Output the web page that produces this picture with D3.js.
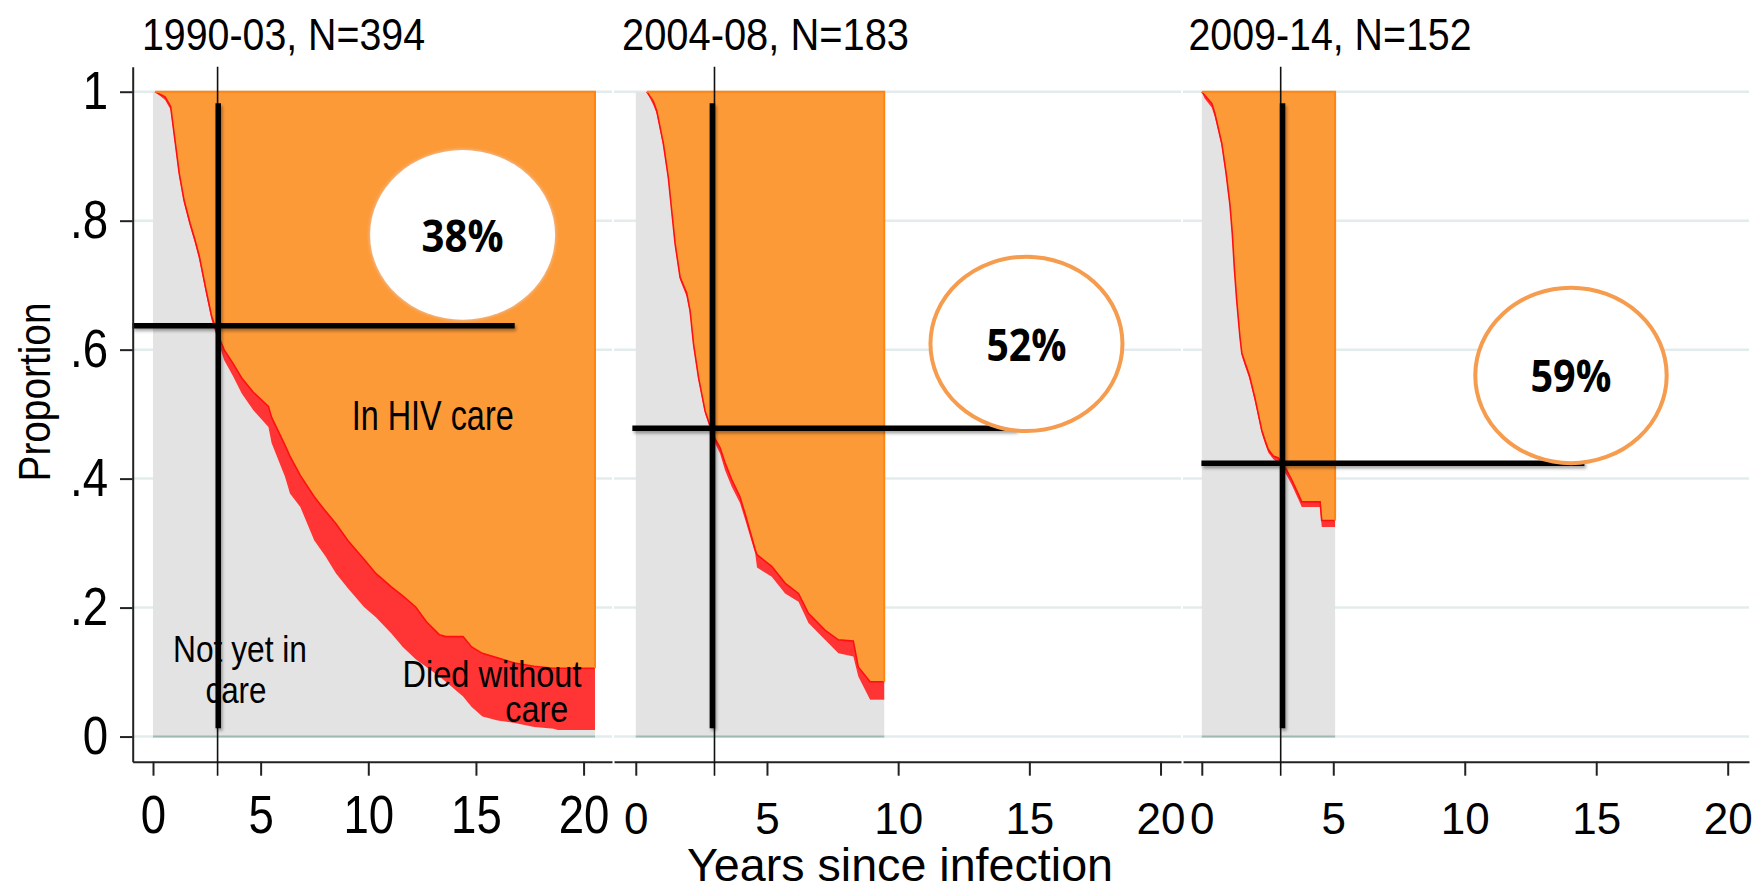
<!DOCTYPE html>
<html><head><meta charset="utf-8">
<script src="https://cdn.jsdelivr.net/npm/d3@7"></script>
<style>body{margin:0;background:#fff}svg{display:block}</style>
</head><body>
<svg id="c" width="1756" height="888"></svg>
<script>
// ---------- data ----------
const yTicks = [0, 0.2, 0.4, 0.6, 0.8, 1];
const yTickLabels = ["0", ".2", ".4", ".6", ".8", "1"];
const xTicks = [0, 5, 10, 15, 20];
const panelTitles = ["1990-03, N=394", "2004-08, N=183", "2009-14, N=152"];
const pctLabels = ["38%", "52%", "59%"];
const refYear = 3;
const refLevels = [0.637, 0.478, 0.424];

// 1990-03
const years1 = [0, 0.09, 0.56, 0.82, 1.02, 1.22, 1.44, 1.72, 1.95, 2.15, 2.46, 2.72, 2.96, 3.30, 3.73, 4.12, 4.66, 5.36, 5.51, 6.13, 6.36, 6.84, 7.49, 8.00, 8.50, 9.05, 9.80, 10.35, 11.07, 11.60, 12.20, 12.70, 13.30, 13.60, 14.40, 14.80, 15.30, 16.00, 16.80, 17.70, 18.60, 18.80, 20.53];
const notInCare1 = [1, 1, 0.987, 0.972, 0.920, 0.868, 0.827, 0.791, 0.765, 0.739, 0.687, 0.646, 0.620, 0.584, 0.558, 0.532, 0.506, 0.480, 0.455, 0.403, 0.377, 0.356, 0.304, 0.280, 0.253, 0.230, 0.201, 0.185, 0.160, 0.139, 0.120, 0.108, 0.093, 0.085, 0.062, 0.046, 0.031, 0.025, 0.021, 0.015, 0.012, 0.010, 0.010];
const notInCareOrDied1 = [1, 1, 0.992, 0.977, 0.925, 0.873, 0.832, 0.796, 0.770, 0.745, 0.693, 0.652, 0.628, 0.600, 0.578, 0.556, 0.534, 0.512, 0.495, 0.452, 0.435, 0.405, 0.372, 0.350, 0.330, 0.304, 0.275, 0.253, 0.232, 0.218, 0.201, 0.178, 0.158, 0.155, 0.155, 0.139, 0.129, 0.122, 0.114, 0.109, 0.106, 0.106, 0.106];

// 2004-08
const years2 = [0, 0.42, 0.67, 0.80, 1.05, 1.24, 1.37, 1.50, 1.69, 1.94, 2.07, 2.20, 2.39, 2.64, 2.83, 3.02, 3.21, 3.40, 3.66, 3.97, 4.17, 4.55, 4.62, 5.18, 5.69, 6.20, 6.58, 7.21, 7.72, 8.29, 8.48, 8.93, 9.47];
const notInCare2 = [1, 1, 0.979, 0.966, 0.915, 0.863, 0.811, 0.760, 0.708, 0.682, 0.656, 0.605, 0.553, 0.501, 0.478, 0.455, 0.439, 0.413, 0.387, 0.362, 0.336, 0.284, 0.262, 0.248, 0.222, 0.209, 0.176, 0.150, 0.129, 0.124, 0.093, 0.057, 0.057];
const notInCareOrDied2 = [1, 1, 0.985, 0.970, 0.920, 0.867, 0.815, 0.764, 0.712, 0.688, 0.660, 0.609, 0.557, 0.505, 0.482, 0.462, 0.448, 0.425, 0.398, 0.372, 0.345, 0.290, 0.282, 0.264, 0.238, 0.222, 0.191, 0.165, 0.150, 0.148, 0.108, 0.085, 0.085];

// 2009-14
const years3 = [0, 0.10, 0.38, 0.50, 0.76, 0.92, 1.07, 1.16, 1.24, 1.33, 1.45, 1.52, 1.64, 1.81, 2.02, 2.15, 2.28, 2.40, 2.53, 2.72, 2.91, 3.23, 3.42, 3.67, 3.80, 4.50, 4.56, 5.07];
const notInCare3 = [1, 0.990, 0.975, 0.960, 0.915, 0.870, 0.820, 0.775, 0.720, 0.670, 0.615, 0.590, 0.575, 0.555, 0.520, 0.495, 0.470, 0.455, 0.440, 0.430, 0.424, 0.405, 0.390, 0.368, 0.356, 0.356, 0.325, 0.325];
const notInCareOrDied3 = [1, 0.995, 0.982, 0.966, 0.920, 0.875, 0.825, 0.780, 0.725, 0.675, 0.620, 0.595, 0.580, 0.560, 0.525, 0.500, 0.475, 0.460, 0.445, 0.435, 0.432, 0.413, 0.398, 0.376, 0.364, 0.364, 0.335, 0.335];

// ---------- layout ----------
const FONT = "'Liberation Sans', Arial, Helvetica, sans-serif";
const panels = [
  {range:[132.7,612], domain:[-0.943,21.32], years:years1, L:notInCare1, U:notInCareOrDied1,
   titleX:142, titleLen:283, tickFont:53, squash:0.86, tickTop:795,
   vLine:3.03, hFrom:-0.95, hTo:16.8, ell:{t:14.38,p:0.778,rx:93,ry:85.3,soft:true}, pctLen:82},
  {range:[614,1181], domain:[-0.83,20.78], years:years2, L:notInCare2, U:notInCareOrDied2,
   titleX:622, titleLen:287, tickFont:44, squash:1, tickTop:803,
   vLine:2.92, hFrom:-0.13, hTo:14.5, ell:{t:14.89,p:0.609,rx:98,ry:89.2,soft:false}, pctLen:80},
  {range:[1183,1749], domain:[-0.715,20.81], years:years3, L:notInCare3, U:notInCareOrDied3,
   titleX:1188.5, titleLen:283, tickFont:44, squash:1, tickTop:803,
   vLine:3.07, hFrom:-0.015, hTo:14.55, ell:{t:14.04,p:0.560,rx:97.7,ry:89.7,soft:false}, pctLen:81}
];

const svg = d3.select("#c");
const defs = svg.append("defs");
const f = defs.append("filter").attr("id","sh").attr("filterUnits","userSpaceOnUse")
  .attr("x",0).attr("y",0).attr("width",1756).attr("height",888);
f.append("feDropShadow").attr("dx",1.5).attr("dy",2.5).attr("stdDeviation",1.6)
  .attr("flood-color","#000").attr("flood-opacity",0.35);
const f2 = defs.append("filter").attr("id","blur").attr("filterUnits","userSpaceOnUse")
  .attr("x",0).attr("y",0).attr("width",1756).attr("height",888);
f2.append("feGaussianBlur").attr("stdDeviation",0.8);

const y = d3.scaleLinear().domain([-0.039, 1.0388]).range([761.7, 66.7]);

panels.forEach((cfg, pi) => {
  const g = svg.append("g");
  const x = d3.scaleLinear().domain(cfg.domain).range(cfg.range);
  const tEnd = cfg.years[cfg.years.length - 1];

  // gridlines
  g.selectAll("line.grid").data(yTicks).join("line").attr("class","grid")
    .attr("x1", cfg.range[0] + (pi === 0 ? 1 : 0)).attr("x2", cfg.range[1])
    .attr("y1", d => y(d)).attr("y2", d => y(d))
    .attr("stroke", "#e3eced").attr("stroke-width", 2.5);

  // stacked areas
  const rows = cfg.years.map((t, i) => ({t, notYet: cfg.L[i], died: cfg.U[i] - cfg.L[i], inCare: 1 - cfg.U[i]}));
  const series = d3.stack().keys(["notYet", "died", "inCare"])(rows);
  const area = d3.area().x(d => x(d.data.t)).y0(d => y(d[0])).y1(d => y(d[1])).curve(d3.curveLinear);
  const fills = {notYet: "#e3e3e3", died: "#ff3535", inCare: "#fd9a38"};
  g.selectAll("path.area").data(series).join("path").attr("class","area")
    .attr("d", area).attr("fill", d => fills[d.key]);

  // red border of "died" band
  const firstIdx = Math.max(0, rows.findIndex(d => d.inCare > 0) - 1);
  const line = d3.line().x(d => x(d.t)).y(d => y(1 - d.inCare)).curve(d3.curveLinear);
  g.append("path").attr("d", line(rows.slice(firstIdx))).attr("fill", "none")
    .attr("stroke", "#ff1010").attr("stroke-width", 1.6);
  // orange outline (top and right)
  const last = rows[rows.length - 1];
  g.append("path").attr("d", `M${x(rows[firstIdx].t)},${y(1)}H${x(tEnd)}V${y(1 - last.inCare)}`)
    .attr("fill","none").attr("stroke","#ff8410").attr("stroke-width",2);
  // baseline
  g.append("line").attr("x1", x(0)).attr("x2", x(tEnd)).attr("y1", y(0)).attr("y2", y(0))
    .attr("stroke", "#9db9b1").attr("stroke-width", 2);

  // x axis
  const xAxis = d3.axisBottom(x).tickValues(xTicks).tickSize(14).tickSizeOuter(0)
    .tickPadding(cfg.tickTop - 761.7 - 14).tickFormat(d3.format("d"));
  const ax = g.append("g").attr("transform", "translate(0,761.7)").call(xAxis);
  ax.select(".domain").attr("stroke", "#222").attr("stroke-width", 2);
  ax.selectAll(".tick line").attr("stroke", "#222").attr("stroke-width", 2);
  ax.selectAll(".tick text").attr("fill", "#000").style("font-family", FONT).style("font-size", cfg.tickFont + "px")
    .each(function() {
      if (cfg.squash !== 1) {
        const w = this.getComputedTextLength();
        d3.select(this).attr("textLength", w * cfg.squash).attr("lengthAdjust", "spacingAndGlyphs");
      }
    });

  // thin reference line at year 3
  g.append("line").attr("x1", x(refYear)).attr("x2", x(refYear)).attr("y1", 66.7).attr("y2", 775.7)
    .attr("stroke", "#111").attr("stroke-width", 1.6);

  // thick crosshair lines
  g.append("line").attr("x1", x(cfg.vLine)).attr("x2", x(cfg.vLine)).attr("y1", y(0.982)).attr("y2", y(0.013))
    .attr("stroke", "#000").attr("stroke-width", 5.5).attr("filter", "url(#sh)");
  g.append("line").attr("x1", x(cfg.hFrom)).attr("x2", x(cfg.hTo)).attr("y1", y(refLevels[pi])).attr("y2", y(refLevels[pi]))
    .attr("stroke", "#000").attr("stroke-width", 5.5).attr("filter", "url(#sh)");

  // ellipse with percentage
  const cx = x(cfg.ell.t), cy = y(cfg.ell.p);
  if (cfg.ell.soft) {
    g.append("ellipse").attr("cx", cx).attr("cy", cy).attr("rx", cfg.ell.rx + 1).attr("ry", cfg.ell.ry + 1)
      .attr("fill", "#f3b27a").attr("filter", "url(#blur)");
    g.append("ellipse").attr("cx", cx).attr("cy", cy).attr("rx", cfg.ell.rx - 0.5).attr("ry", cfg.ell.ry - 0.5)
      .attr("fill", "#fff");
  } else {
    g.append("ellipse").attr("cx", cx).attr("cy", cy).attr("rx", cfg.ell.rx - 2).attr("ry", cfg.ell.ry - 2)
      .attr("fill", "#fff").attr("stroke", "#f59c4e").attr("stroke-width", 4);
  }
  g.append("text").attr("x", cx).attr("y", cy + 17).attr("text-anchor", "middle")
    .style("font-family", "'Open Sans', 'DejaVu Sans', sans-serif").style("font-weight", 700).style("font-size", "44px")
    .attr("textLength", cfg.pctLen).attr("lengthAdjust", "spacingAndGlyphs").attr("fill", "#000")
    .text(pctLabels[pi]);

  // title
  g.append("text").attr("x", cfg.titleX).attr("y", 50).style("font-family", FONT).style("font-size", "44px")
    .attr("textLength", cfg.titleLen).attr("lengthAdjust", "spacingAndGlyphs").attr("fill", "#000")
    .text(panelTitles[pi]);
});

// y axis (first panel only)
const yAxis = d3.axisLeft(y).tickValues(yTicks).tickFormat((d, i) => yTickLabels[i])
  .tickSize(12.7).tickSizeOuter(0).tickPadding(12);
const ay = svg.append("g").attr("transform", "translate(132.7,0)").call(yAxis);
ay.select(".domain").attr("stroke", "#222").attr("stroke-width", 2);
ay.selectAll(".tick line").attr("stroke", "#222").attr("stroke-width", 2);
ay.selectAll(".tick text").attr("fill", "#000").style("font-family", FONT).style("font-size", "53px")
  .each(function() {
    const w = this.getComputedTextLength();
    d3.select(this).attr("textLength", w * 0.86).attr("lengthAdjust", "spacingAndGlyphs");
  });

// axis titles
svg.append("text").attr("transform", "translate(50,392) rotate(-90)").attr("text-anchor", "middle")
  .style("font-family", FONT).style("font-size", "44px").attr("textLength", 179).attr("lengthAdjust", "spacingAndGlyphs")
  .attr("fill", "#000").text("Proportion");
svg.append("text").attr("x", 900).attr("y", 881).attr("text-anchor", "middle")
  .style("font-family", FONT).style("font-size", "47px").attr("textLength", 426).attr("lengthAdjust", "spacingAndGlyphs")
  .attr("fill", "#000").text("Years since infection");

// area labels in first panel
const areaLabels = [
  {t: "In HIV care", x: 351.7, y: 430, len: 162, size: 42, anchor: "start"},
  {t: "Not yet in", x: 240, y: 661.7, len: 134, size: 37, anchor: "middle"},
  {t: "care", x: 236, y: 703, len: 61, size: 37, anchor: "middle"},
  {t: "Died without", x: 402.5, y: 686.7, len: 179, size: 37, anchor: "start"},
  {t: "care", x: 505.3, y: 721.7, len: 63, size: 37, anchor: "start"}
];
svg.selectAll("text.al").data(areaLabels).join("text").attr("class", "al")
  .attr("x", d => d.x).attr("y", d => d.y).attr("text-anchor", d => d.anchor)
  .style("font-family", FONT).style("font-size", d => d.size + "px")
  .attr("textLength", d => d.len).attr("lengthAdjust", "spacingAndGlyphs").attr("fill", "#000")
  .text(d => d.t);
</script>
</body></html>
